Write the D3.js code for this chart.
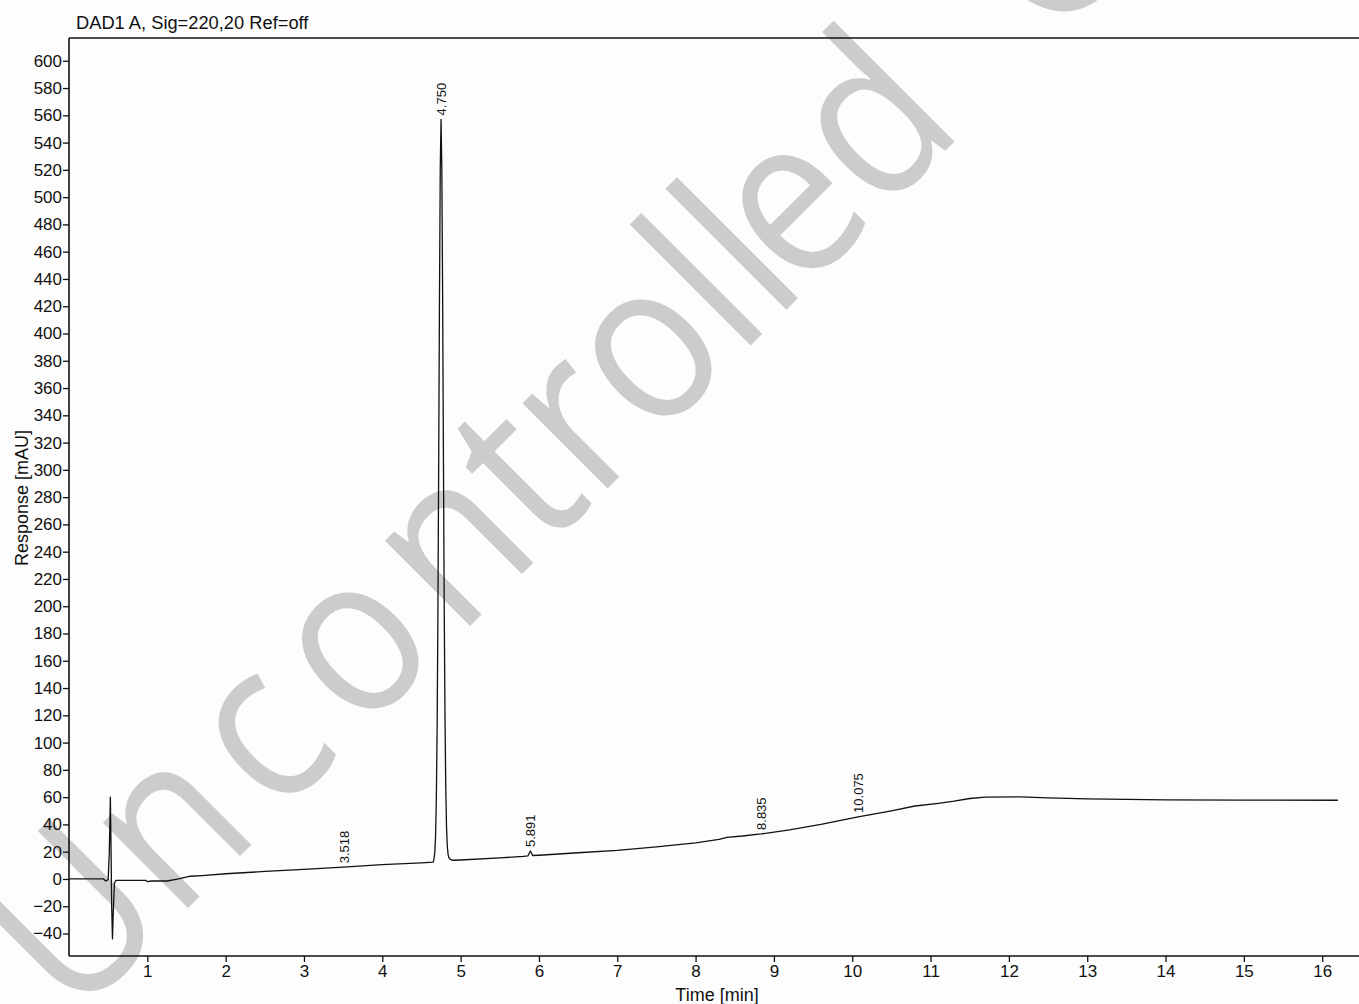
<!DOCTYPE html>
<html>
<head>
<meta charset="utf-8">
<script src="https://cdn.jsdelivr.net/npm/d3@7"></script>
<style>
  html, body { margin: 0; padding: 0; background: #fdfdfd; }
  svg { display: block; font-family: "Liberation Sans", Arial, sans-serif; }
</style>
</head>
<body>
<svg id="chart" width="1359" height="1004"></svg>
<script>
// ---- data ----
const title = "DAD1 A, Sig=220,20 Ref=off";
const xLabel = "Time [min]";
const yLabel = "Response [mAU]";
const watermark = "Uncontrolled Copy";

const xTicks = [1,2,3,4,5,6,7,8,9,10,11,12,13,14,15,16];
const yTicks = [-40,-20,0,20,40,60,80,100,120,140,160,180,200,220,240,260,280,300,320,340,360,380,400,420,440,460,480,500,520,540,560,580,600];

const times = [0, 0.2, 0.44, 0.47, 0.5, 0.515, 0.528, 0.535, 0.545, 0.555, 0.565, 0.58, 0.6, 0.8, 0.98, 1.0, 1.05, 1.25, 1.4, 1.55, 1.7, 2.0, 2.5, 3.0, 3.5, 4.0, 4.5, 4.65,
  4.66, 4.67, 4.68, 4.69, 4.70, 4.71, 4.72, 4.73, 4.74, 4.75, 4.76, 4.77, 4.78, 4.79, 4.80, 4.81, 4.82, 4.83, 4.84, 4.85, 4.87,
  4.9, 5.0, 5.5, 5.8, 5.86, 5.891, 5.92, 6.0, 6.5, 7.0, 7.5, 8.0, 8.3, 8.4, 8.6, 8.835, 9.2, 9.6, 10.075, 10.5, 10.8, 11.1, 11.3, 11.5, 11.7, 12.15, 12.5, 13.0, 13.5, 14.0, 15.0, 16.2];
const response = [0, 0, 0, -1.5, -0.5, 20, 60, 30, -20, -44, -25, -3, -1, -1, -1, -2, -1.5, -1.5, 0, 2, 2.5, 3.8, 5.5, 7, 8.7, 10.5, 11.8, 12.3,
  14.6, 19.3, 31, 59, 110, 194, 306, 426, 521, 557, 521, 430, 315, 205, 122, 68, 38, 24, 18, 15.5, 14.3,
  13.7, 13.9, 15.5, 16.5, 17, 20.5, 17.2, 17.4, 19.2, 21, 23.5, 26.5, 29, 30.5, 31.5, 33, 36, 40, 45.5, 50, 53.5, 55.5, 57, 59, 60, 60.2, 59.5, 58.7, 58.3, 58, 57.8, 57.7];

const peakTimes = [3.518, 4.750, 5.891, 8.835, 10.075];
const peakLabels = ["3.518", "4.750", "5.891", "8.835", "10.075"];
const peakHeights = [8.6, 557, 20.5, 33, 45.5];

// ---- layout ----
const svg = d3.select("#chart");
const mLeft = 69, mTop = 38, mRight = 1359, mBottom = 956;

const x = d3.scaleLinear().domain([0, 16.47]).range([mLeft, mRight]);
const y = d3.scaleLinear().domain([-56.5, 616.7]).range([mBottom, mTop]);

// watermark (under everything)
const wmShift = [-67, 0, 22, 25, 20, 0, 0, 0, 0, 0, -15, 0, 75, 0, 0, 0, 0];
svg.append("text")
  .attr("transform", "translate(115,981) rotate(-45) scale(0.89,1)")
  .attr("font-size", 225)
  .attr("font-family", "'Open Sans', 'Noto Sans', sans-serif")
  .attr("fill", "#cccccc")
  .attr("dx", wmShift.join(" "))
  .text(watermark);

// trace
const pts = times.map((t, i) => [t, response[i]]);
svg.append("path")
  .datum(pts)
  .attr("fill", "none")
  .attr("stroke", "#111")
  .attr("stroke-width", 1.3)
  .attr("stroke-linejoin", "round")
  .attr("d", d3.line().x(d => x(d[0])).y(d => y(d[1])));

// axes
const yAxis = d3.axisLeft(y).tickValues(yTicks).tickSize(6).tickPadding(1).tickFormat(d3.format("d"));
const gy = svg.append("g").attr("transform", `translate(${mLeft},0)`).call(yAxis);
const xAxis = d3.axisBottom(x).tickValues(xTicks).tickSize(6).tickPadding(3).tickFormat(d3.format("d"));
const gx = svg.append("g").attr("transform", `translate(0,${mBottom})`).call(xAxis);
[gx, gy].forEach(g => {
  g.select(".domain").remove();
  g.selectAll(".tick line").attr("stroke", "#111").attr("stroke-width", 1.3);
  g.selectAll(".tick text").attr("fill", "#111").attr("font-size", 17).attr("font-family", "Liberation Sans, Arial, sans-serif");
});

// frame lines
svg.append("line").attr("x1", mLeft).attr("x2", mLeft).attr("y1", mTop).attr("y2", mBottom).attr("stroke", "#111").attr("stroke-width", 1.6);
svg.append("line").attr("x1", mLeft).attr("x2", mRight).attr("y1", mBottom).attr("y2", mBottom).attr("stroke", "#111").attr("stroke-width", 1.6);
svg.append("line").attr("x1", mLeft).attr("x2", mRight).attr("y1", mTop).attr("y2", mTop).attr("stroke", "#111").attr("stroke-width", 1.6);

// title
svg.append("text").attr("x", 76).attr("y", 29).attr("font-size", 18.3).attr("fill", "#111").text(title);

// axis titles
svg.append("text").attr("x", 717).attr("y", 1001).attr("text-anchor", "middle").attr("font-size", 18).attr("fill", "#111").text(xLabel);
svg.append("text").attr("transform", `translate(28,498) rotate(-90)`).attr("text-anchor", "middle").attr("font-size", 18).attr("fill", "#111").text(yLabel);

// peak labels
peakTimes.forEach((t, i) => {
  svg.append("text")
    .attr("transform", `translate(${x(t)},${y(peakHeights[i]) - 4}) rotate(-90)`)
    .attr("dy", "0.35em")
    .attr("font-size", 13)
    .attr("fill", "#111")
    .text(peakLabels[i]);
});
</script>
</body>
</html>
